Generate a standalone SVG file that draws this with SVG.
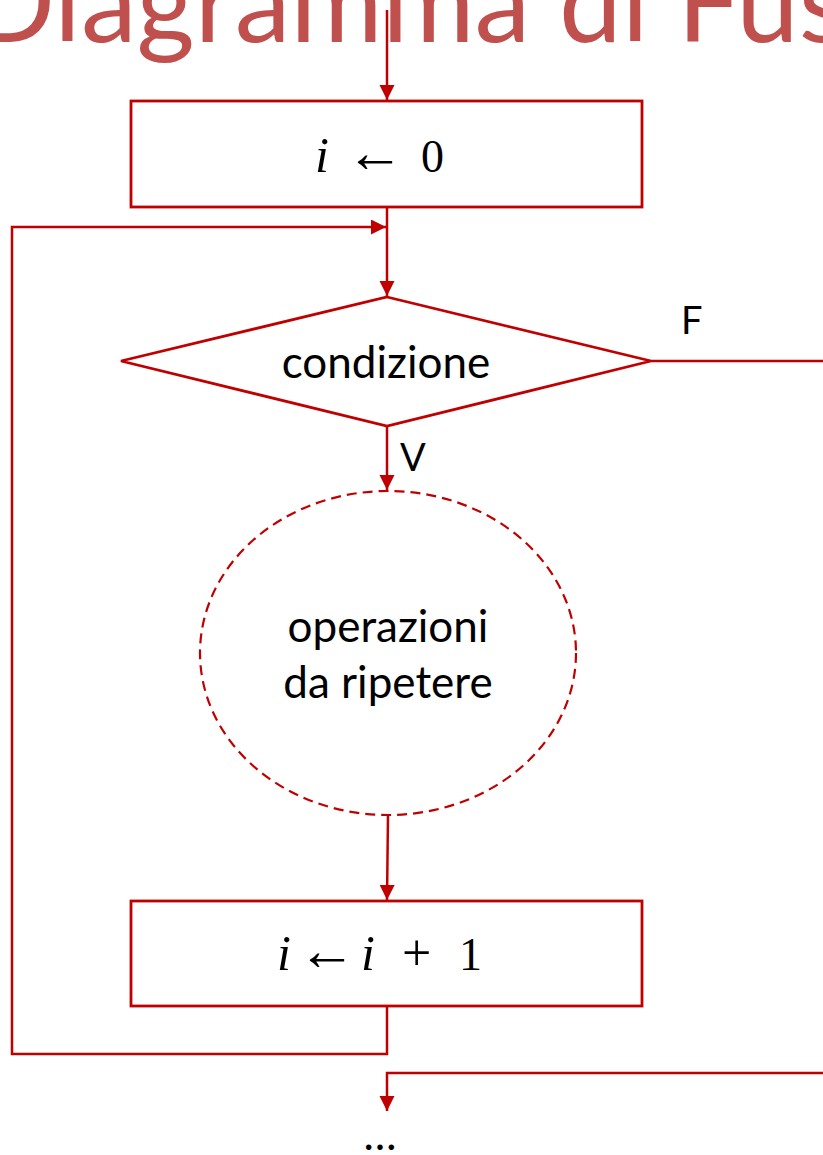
<svg xmlns="http://www.w3.org/2000/svg" width="823" height="1155" viewBox="0 0 823 1155">
<style>
.title{font-family:Lato,"Open Sans","Liberation Sans",sans-serif;font-size:112px;fill:#C0504D}
.lbl{font-family:Lato,"Open Sans","Liberation Sans",sans-serif;font-size:44px;fill:#000}
.small{font-family:Lato,"Open Sans","Liberation Sans",sans-serif;font-size:38px;fill:#000}
.math{font-family:"Liberation Serif","DejaVu Serif",serif;font-size:46px;fill:#000}
.it{font-style:italic;font-size:50px}
.ar{font-size:58px}
.pl{font-size:52px}
.shape{fill:#fff;stroke:#C00000;stroke-width:2.8}
.dash{fill:none;stroke:#C00000;stroke-width:2.2;stroke-dasharray:10 6}
.conn{fill:none;stroke:#C00000;stroke-width:2.5}
</style>
<defs>
<marker id="arr" markerUnits="userSpaceOnUse" markerWidth="16" markerHeight="16" refX="15" refY="7.5" orient="auto">
<path d="M0,0 L15,7.5 L0,15 z" fill="#C00000"/>
</marker>
</defs>
<text class="title" x="-30" y="42">Diagramma di Fus</text>
<g id="connectors">
<path class="conn" d="M387,10 L387,100" marker-end="url(#arr)"/>
<path class="conn" d="M387,208 L387,296" marker-end="url(#arr)"/>
<path class="conn" d="M387,1006 L387,1054 L12,1054 L12,227 L386,227" marker-end="url(#arr)"/>
<path class="conn" d="M387,426 L387,490" marker-end="url(#arr)"/>
<path class="conn" d="M388,815 L387,900" marker-end="url(#arr)"/>
<path class="conn" d="M651,361 L825,361"/>
<path class="conn" d="M825,1073 L387,1073 L387,1111" marker-end="url(#arr)"/>
</g>
<g id="init">
<rect class="shape" x="131" y="101" width="511" height="106"/>
<text class="math" y="172"><tspan class="it" x="315">i</tspan><tspan class="ar" x="346">←</tspan><tspan x="421">0</tspan></text>
</g>
<g id="cond">
<polygon class="shape" points="387,297 651,361 387,426 121,361"/>
<text class="lbl" x="386" y="378" text-anchor="middle">condizione</text>
</g>
<g id="body">
<ellipse class="dash" cx="388" cy="653" rx="188" ry="162"/>
<text class="lbl" x="388" y="642" text-anchor="middle">operazioni</text>
<text class="lbl" x="388" y="698" text-anchor="middle">da ripetere</text>
</g>
<g id="incr">
<rect class="shape" x="131" y="901" width="511" height="105"/>
<text class="math" y="970"><tspan class="it" x="277">i</tspan><tspan class="ar" x="298">←</tspan><tspan class="it" x="361">i</tspan><tspan class="pl" x="402">+</tspan><tspan x="459">1</tspan></text>
</g>
<g id="labels">
<text class="small" x="681" y="334">F</text>
<text class="small" x="400" y="471">V</text>
<text class="lbl" x="380" y="1150" text-anchor="middle">…</text>
</g>
</svg>
